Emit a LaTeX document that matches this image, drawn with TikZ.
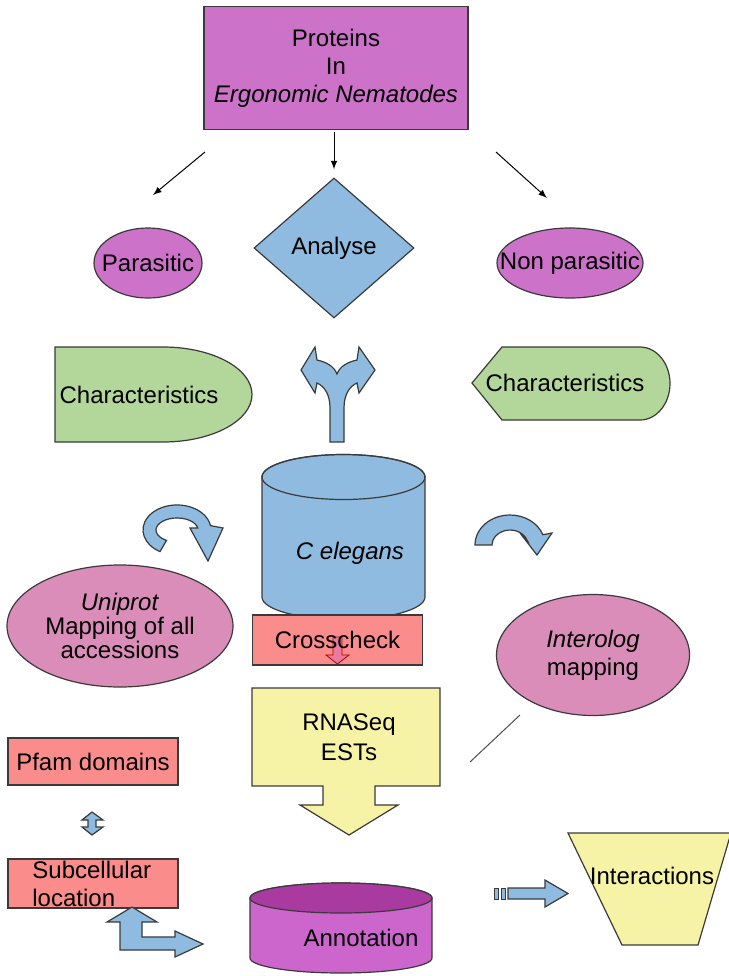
\documentclass[tikz,border=0pt]{standalone}
\usepackage{fontspec}
\setmainfont{Liberation Sans}
\usetikzlibrary{shapes.geometric,arrows}

\definecolor{orchidfill}{HTML}{CD72C9}
\definecolor{bluefill}{HTML}{8EBBDF}
\definecolor{greenfill}{HTML}{B3D69A}
\definecolor{pinkfill}{HTML}{DB8DBA}
\definecolor{salmonfill}{HTML}{FA8C8C}
\definecolor{yellowfill}{HTML}{F7F3A6}
\definecolor{annofill}{HTML}{CC66CC}
\definecolor{annotop}{HTML}{A83AA0}
\definecolor{edgegray}{HTML}{3A3A3A}
\definecolor{arrowpink}{HTML}{E97BA0}

\begin{document}
\begin{tikzpicture}[x=0.5pt, y=-0.5pt, % one unit is one pixel of the sketch
        font=\fontsize{12}{14}\selectfont,
        every node/.style={inner sep=0pt, align=center},
        outl/.style={draw=edgegray, line width=0.6pt}, % thin dark outline of every figure
        magbox/.style={outl, fill=orchidfill},
        oval/.style={ellipse, inner sep=-40pt}, % size comes only from minimum width/height
        redbox/.style={outl, fill=salmonfill, minimum width=85pt},
        bluefig/.style={outl, fill=bluefill},
        link/.style={->, >=latex, line width=0.5pt},
    ]
    \useasboundingbox (0,0) rectangle (729,976);

    % top row
    \node[magbox, minimum width=132pt, minimum height=61.5pt] (proteins) at (336,68) {Proteins\\In\\\textit{Ergonomic Nematodes}};
    \node[magbox, oval, minimum width=54pt, minimum height=35pt] (parasitic) at (148,263) {Parasitic};
    \node[bluefig, diamond, inner sep=-40pt, minimum width=80pt, minimum height=70pt] (analyse) at (334,248) {Analyse};
    \node[magbox, oval, minimum width=73pt, minimum height=35pt] (nonpara) at (570,263) {Non parasitic};

    \coordinate (l0) at (205,152);
    \coordinate (l1) at (153,195);
    \coordinate (r0) at (496,152);
    \coordinate (r1) at (547,198);
    \draw[link] (l0) -- (l1);
    \draw[link, shorten <=1pt, shorten >=4pt] (analyse.north |- proteins.south) -- (analyse.north);
    \draw[link] (r0) -- (r1);

    % characteristics and the split arrow
    \draw[outl, fill=greenfill] (55,347) -- (163,347) arc[start angle=-90, end angle=90, x radius=89, y radius=47.5] -- (55,442) -- cycle;
    \node (charleft) at (139,395) {Characteristics};
    \draw[outl, fill=greenfill] (472,383) -- (502,347) -- (640,347) arc[start angle=-90, end angle=90, x radius=30, y radius=36.5] -- (502,420) -- cycle;
    \node (charright) at (565,383) {Characteristics};

    \draw[bluefig] (330,442) -- (330,408) .. controls (330,394) and (324,386) .. (317,383) -- (315,393) -- (301,370) -- (315,347) -- (317,360)
        .. controls (326,362) and (334,366) .. (337,374) .. controls (340,366) and (348,362) .. (357,360)
        -- (359,347) -- (375,370) -- (359,393) -- (357,383) .. controls (350,386) and (344,394) .. (344,408) -- (344,442) -- cycle;

    % C elegans
    \path[bluefig] (262,477) -- (262,597) arc[start angle=180, end angle=0, x radius=81.5, y radius=22.5]
        -- (425,477) arc[start angle=0, end angle=-180, x radius=81.5, y radius=22.5] -- cycle;
    \draw[outl] (343.5,477) ellipse[x radius=81.5, y radius=22.5];
    \node (celegans) at (350,553) {\textit{C elegans}};

    \draw[bluefig] (160,551.6) arc[start angle=120, end angle=350, x radius=34, y radius=25]
        -- (223,528) -- (208,561) -- (190,528) -- (197.7,527.9)
        arc[start angle=350, end angle=120, x radius=21, y radius=12] -- cycle;
    \draw[bluefig] (475,545) arc[start angle=180, end angle=340, x radius=35, y radius=30]
        -- (552,533) -- (537,555) -- (520,533) -- (526.9,539.9)
        arc[start angle=340, end angle=180, x radius=18, y radius=15] -- cycle;

    \node[outl, fill=pinkfill, oval, minimum width=113pt, minimum height=61pt, font=\fontsize{12}{12}\selectfont] (uniprot) at (120,626) {\textit{Uniprot}\\Mapping of all\\accessions};
    \node[outl, fill=pinkfill, oval, minimum width=96.5pt, minimum height=60.5pt] (interolog) at (593,655) {\textit{Interolog}\\mapping};

    \node[redbox, minimum height=25pt] (crosscheck) at (337.5,640) {};
    \draw[draw=red!70!black, fill=arrowpink, line width=0.4pt] (333,637) -- (342,637) -- (342,655) -- (349,655) -- (337.5,664) -- (326,655) -- (333,655) -- cycle;
    \node (crosstxt) at (crosscheck) {Crosscheck};

    % RNASeq callout
    \draw[outl, fill=yellowfill] (252,688) -- (440,688) -- (440,786) -- (375,786) -- (375,805) -- (398,805) -- (349,835)
        -- (300,805) -- (323,805) -- (323,786) -- (252,786) -- cycle;
    \node[font=\fontsize{12}{15}\selectfont] (rnaseq) at (349,737) {RNASeq\\ESTs};

    \coordinate (g0) at (470,762);
    \coordinate (g1) at (520,715);
    \draw[line width=0.5pt, black!70] (g0) -- (g1);

    % left column
    \node[redbox, minimum height=23.5pt] (pfam) at (93,761.5) {Pfam domains};
    \draw[bluefig] (92,812) -- (103,820) -- (96,820) -- (96,827) -- (103,827) -- (92,835) -- (82,827) -- (88,827) -- (88,820) -- (82,820) -- cycle;
    \node[redbox, minimum height=24.5pt] (subcell) at (93,883.5) {};
    \node[anchor=west, align=left] (subcelltxt) at (32,884) {Subcellular\\location};
    \draw[bluefig] (132,907) -- (157,922) -- (142,922) -- (142,937) -- (175,937) -- (175,931) -- (203,944) -- (175,957)
        -- (175,950) -- (120,950) -- (120,922) -- (107,922) -- cycle;

    % annotation and interactions
    \path[outl, fill=annofill] (250,898) -- (250,958) arc[start angle=180, end angle=0, x radius=91, y radius=15]
        -- (432,898) arc[start angle=0, end angle=-180, x radius=91, y radius=15] -- cycle;
    \draw[outl, fill=annotop] (341,898) ellipse[x radius=91, y radius=15];
    \node (annotation) at (361,938) {Annotation};

    \foreach \sx in {494,501}
        \draw[bluefig, line width=0.3pt] (\sx,888) rectangle ++(4,11);
    \draw[bluefig] (508,888) -- (545,888) -- (545,880) -- (568,893.5) -- (545,907) -- (545,899) -- (508,899) -- cycle;

    \draw[outl, fill=yellowfill] (568,833) -- (731,833) -- (698,945) -- (622,945) -- cycle;
    \node (interactions) at (652,876) {Interactions};
\end{tikzpicture}
\end{document}
